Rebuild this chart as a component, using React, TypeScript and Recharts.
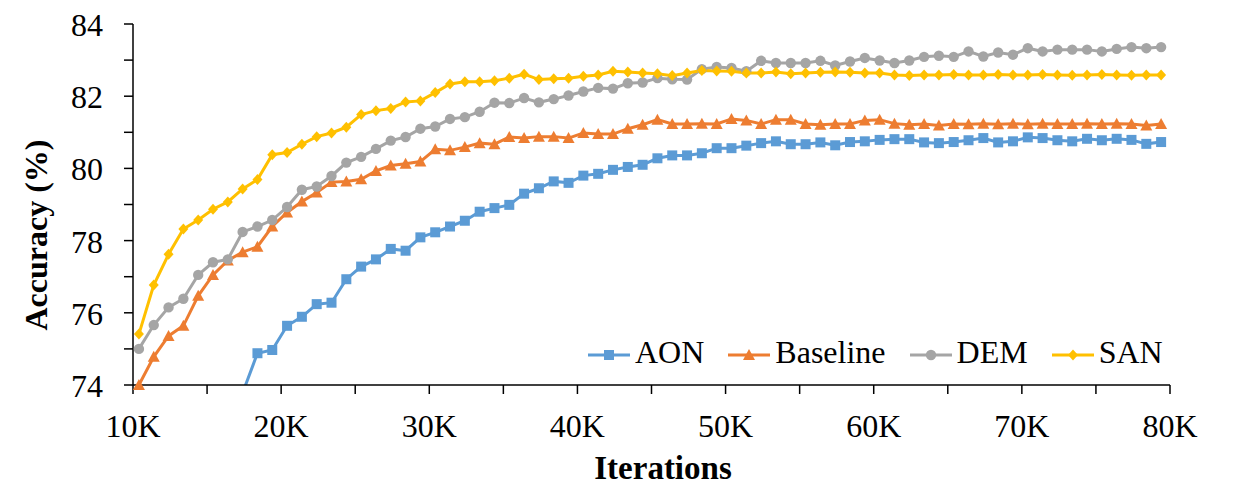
import React from "react";
import { LineChart, Line, XAxis, YAxis } from "recharts";

// iterations in thousands
const iterations = [
  10.4, 11.4, 12.4, 13.4, 14.4, 15.4, 16.4, 17.4, 18.4, 19.4,
  20.4, 21.4, 22.4, 23.4, 24.4, 25.4, 26.4, 27.4, 28.4, 29.4,
  30.4, 31.4, 32.4, 33.4, 34.4, 35.4, 36.4, 37.4, 38.4, 39.4,
  40.4, 41.4, 42.4, 43.4, 44.4, 45.4, 46.4, 47.4, 48.4, 49.4,
  50.4, 51.4, 52.4, 53.4, 54.4, 55.4, 56.4, 57.4, 58.4, 59.4,
  60.4, 61.4, 62.4, 63.4, 64.4, 65.4, 66.4, 67.4, 68.4, 69.4,
  70.4, 71.4, 72.4, 73.4, 74.4, 75.4, 76.4, 77.4, 78.4, 79.4,
];

const aon = [
  null, null, null, null, null, null, null, 73.78, 74.88, 74.97,
  75.64, 75.89, 76.24, 76.28, 76.93, 77.28, 77.48, 77.77, 77.72, 78.09,
  78.23, 78.39, 78.55, 78.8, 78.9, 78.99, 79.3, 79.45, 79.64, 79.6,
  79.8, 79.85, 79.96, 80.04, 80.1, 80.28, 80.36, 80.36, 80.42, 80.56,
  80.56, 80.63, 80.7, 80.75, 80.67, 80.67, 80.72, 80.64, 80.73, 80.75,
  80.79, 80.81, 80.81, 80.72, 80.7, 80.73, 80.78, 80.84, 80.72, 80.75,
  80.86, 80.84, 80.78, 80.75, 80.82, 80.78, 80.82, 80.79, 80.68, 80.73,
];

const baseline = [
  74.0, 74.78, 75.36, 75.64, 76.47, 77.05, 77.45, 77.68, 77.83, 78.39,
  78.78, 79.08, 79.33, 79.62, 79.64, 79.7, 79.93, 80.08, 80.13, 80.19,
  80.53, 80.5, 80.59, 80.7, 80.67, 80.87, 80.84, 80.88, 80.88, 80.84,
  80.98, 80.95, 80.95, 81.1, 81.21, 81.35, 81.23, 81.23, 81.24, 81.23,
  81.37, 81.33, 81.23, 81.35, 81.35, 81.23, 81.21, 81.23, 81.23, 81.33,
  81.35, 81.24, 81.21, 81.23, 81.19, 81.23, 81.22, 81.24, 81.22, 81.24,
  81.22, 81.24, 81.23, 81.23, 81.24, 81.23, 81.24, 81.23, 81.19, 81.23,
];

const dem = [
  75.0, 75.66, 76.15, 76.39, 77.05, 77.4, 77.48, 78.24, 78.39, 78.57,
  78.93, 79.41, 79.5, 79.79, 80.16, 80.32, 80.54, 80.77, 80.87, 81.1,
  81.16, 81.37, 81.42, 81.57, 81.82, 81.81, 81.95, 81.83, 81.92, 82.02,
  82.13, 82.23, 82.21, 82.36, 82.38, 82.5, 82.47, 82.46, 82.75, 82.81,
  82.78, 82.69, 82.98, 82.92, 82.92, 82.92, 82.98, 82.85, 82.96, 83.06,
  82.99, 82.92, 82.99, 83.09, 83.12, 83.09, 83.24, 83.1, 83.21, 83.15,
  83.33, 83.24, 83.29, 83.29, 83.29, 83.24, 83.31, 83.36, 83.33, 83.36,
];

const san = [
  75.41, 76.77, 77.62, 78.32, 78.57, 78.87, 79.07, 79.43, 79.69, 80.38,
  80.44, 80.67, 80.88, 80.98, 81.14, 81.49, 81.6, 81.66, 81.84, 81.87,
  82.1, 82.34, 82.4, 82.4, 82.43, 82.5, 82.61, 82.46, 82.48, 82.5,
  82.55, 82.59, 82.69, 82.67, 82.64, 82.62, 82.57, 82.64, 82.71, 82.7,
  82.69, 82.64, 82.64, 82.67, 82.62, 82.64, 82.66, 82.67, 82.66, 82.64,
  82.64, 82.59, 82.57, 82.59, 82.59, 82.6, 82.59, 82.59, 82.6, 82.59,
  82.59, 82.6, 82.59, 82.58, 82.59, 82.6, 82.59, 82.58, 82.59, 82.59,
];

const xTicks = [10, 15, 20, 25, 30, 35, 40, 45, 50, 55, 60, 65, 70, 75, 80];
const yTicks = [74, 75, 76, 77, 78, 79, 80, 81, 82, 83, 84];

const data = iterations.map((iter, i) => ({
  iter,
  AON: aon[i],
  Baseline: baseline[i],
  DEM: dem[i],
  SAN: san[i],
}));

const FONT = "'Liberation Serif', 'Times New Roman', serif";
const COLORS = { AON: "#5B9BD5", Baseline: "#ED7D31", DEM: "#A5A5A5", SAN: "#FFC000" };

type Shape = "square" | "triangle" | "circle" | "diamond";

function marker(shape: Shape, cx: number, cy: number, fill: string, key?: string) {
  if (shape === "square") return <rect key={key} x={cx - 5} y={cy - 5} width={10} height={10} fill={fill} />;
  if (shape === "triangle")
    return <path key={key} d={`M${cx},${cy - 6}L${cx + 6},${cy + 5}L${cx - 6},${cy + 5}Z`} fill={fill} />;
  if (shape === "circle") return <circle key={key} cx={cx} cy={cy} r={5.2} fill={fill} />;
  return <path key={key} d={`M${cx},${cy - 5.5}L${cx + 5},${cy}L${cx},${cy + 5.5}L${cx - 5},${cy}Z`} fill={fill} />;
}

const makeDot = (shape: Shape, fill: string) => (props: any) => {
  const { cx, cy, index } = props;
  const key = `${shape}-${index}`;
  if (cx == null || cy == null || props.value == null) return <g key={key} />;
  return marker(shape, cx, cy, fill, key);
};

const XTick = (props: any) => {
  const { x, y, payload } = props;
  if (payload.value % 10 !== 0) return <g />;
  return (
    <text x={x} y={y} dy={40.7} textAnchor="middle" style={{ fontFamily: FONT }} fontSize={32} fill="#000">
      {`${payload.value}K`}
    </text>
  );
};

const YTick = (props: any) => {
  const { x, y, payload } = props;
  if (payload.value % 2 !== 0) return <g />;
  return (
    <text x={x} y={y} dy={12} textAnchor="end" style={{ fontFamily: FONT }} fontSize={32} fill="#000">
      {payload.value}
    </text>
  );
};

const legendItems: { name: keyof typeof COLORS; shape: Shape }[] = [
  { name: "AON", shape: "square" },
  { name: "Baseline", shape: "triangle" },
  { name: "DEM", shape: "circle" },
  { name: "SAN", shape: "diamond" },
];

export default function App() {
  return (
    <div style={{ position: "relative", width: 1230, height: 473, fontFamily: FONT }}>
      <LineChart width={1230} height={481} data={data} margin={{ top: 16, right: 68, bottom: 8, left: 0 }}>
        <XAxis
          dataKey="iter"
          type="number"
          domain={[10, 80]}
          ticks={xTicks}
          interval={0}
          height={96}
          tickSize={9}
          tick={<XTick />}
          axisLine={{ stroke: "#000", strokeWidth: 1.5 }}
          tickLine={{ stroke: "#000", strokeWidth: 1.5 }}
          label={{
            content: () => (
              <text x={655} y={471} textAnchor="middle" style={{ fontFamily: FONT }} fontWeight="bold" fontSize={33} fill="#000">
                Iterations
              </text>
            ),
          }}
        />
        <YAxis
          domain={[74, 84]}
          ticks={yTicks}
          interval={0}
          width={125}
          tickSize={9}
          tickMargin={21}
          tick={<YTick />}
          axisLine={{ stroke: "#000", strokeWidth: 1.5 }}
          tickLine={{ stroke: "#000", strokeWidth: 1.5 }}
          label={{
            content: () => (
              <text
                x={38.5}
                y={227}
                transform="rotate(-90 38.5 227)"
                textAnchor="middle"
                style={{ fontFamily: FONT }}
                fontWeight="bold"
                fontSize={32}
                fill="#000"
              >
                Accuracy (%)
              </text>
            ),
          }}
        />
        <YAxis yAxisId="clip" hide domain={[74, 84]} allowDataOverflow />
        <Line
          yAxisId="clip"
          dataKey="AON"
          stroke={COLORS.AON}
          strokeWidth={3}
          dot={makeDot("square", COLORS.AON)}
          activeDot={false}
          isAnimationActive={false}
        />
        <Line
          dataKey="Baseline"
          stroke={COLORS.Baseline}
          strokeWidth={3}
          dot={makeDot("triangle", COLORS.Baseline)}
          activeDot={false}
          isAnimationActive={false}
        />
        <Line
          dataKey="DEM"
          stroke={COLORS.DEM}
          strokeWidth={3}
          dot={makeDot("circle", COLORS.DEM)}
          activeDot={false}
          isAnimationActive={false}
        />
        <Line
          dataKey="SAN"
          stroke={COLORS.SAN}
          strokeWidth={3}
          dot={makeDot("diamond", COLORS.SAN)}
          activeDot={false}
          isAnimationActive={false}
        />
      </LineChart>
      <div
        style={{
          position: "absolute",
          left: 580,
          top: 328,
          display: "flex",
          alignItems: "flex-start",
          fontFamily: FONT,
          fontSize: 32,
          lineHeight: "32px",
          whiteSpace: "nowrap",
          color: "#000",
        }}
      >
        {legendItems.map((item) => (
          <div key={item.name} style={{ display: "flex", alignItems: "flex-start", marginRight: 24 }}>
            <svg width={42} height={32} style={{ marginRight: 5 }}>
              <line x1={0} y1={19} x2={42} y2={19} stroke={COLORS[item.name]} strokeWidth={3} />
              {marker(item.shape, 21, 19, COLORS[item.name])}
            </svg>
            <span>{item.name}</span>
          </div>
        ))}
      </div>
    </div>
  );
}
